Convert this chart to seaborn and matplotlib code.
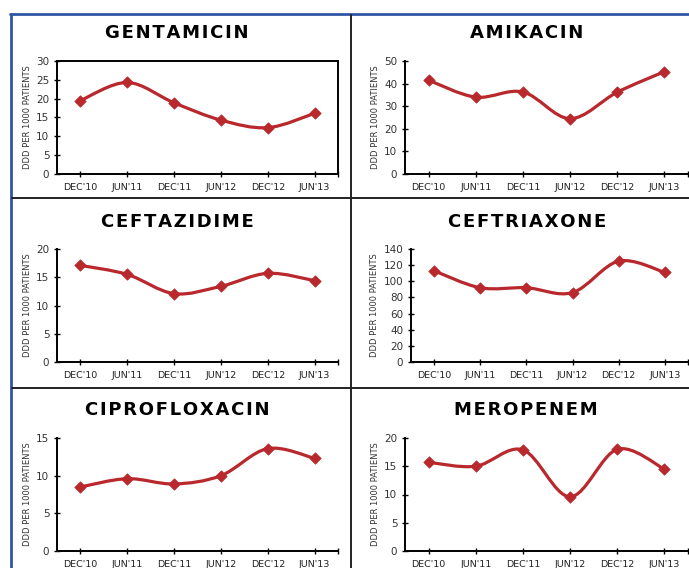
import numpy as np
import pandas as pd
import matplotlib.pyplot as plt
import seaborn as sns
from matplotlib.path import Path
from matplotlib.patches import PathPatch
from matplotlib.lines import Line2D
from matplotlib.ticker import FixedLocator

# data (DDD per 1000 patients)
periods = ["DEC'10", "JUN'11", "DEC'11", "JUN'12", "DEC'12", "JUN'13"]
gentamicin = [19.5, 24.3, 18.9, 14.3, 12.3, 16.1]
amikacin = [41.5, 34.0, 36.3, 24.5, 36.2, 45.3]
ceftazidime = [17.1, 15.5, 12.1, 13.4, 15.7, 14.4]
ceftriaxone = [113, 92, 92, 86, 125, 111]
ciprofloxacin = [8.5, 9.6, 8.9, 10.0, 13.6, 12.3]
meropenem = [15.7, 15.0, 17.9, 9.6, 18.0, 14.5]

drugs = ["GENTAMICIN", "AMIKACIN", "CEFTAZIDIME", "CEFTRIAXONE", "CIPROFLOXACIN", "MEROPENEM"]
values = [gentamicin, amikacin, ceftazidime, ceftriaxone, ciprofloxacin, meropenem]
ymax = [30, 50, 20, 140, 15, 20]
ystep = [5, 10, 5, 20, 5, 5]

sns.set_style("white")
plt.rcParams["font.family"] = ["DejaVu Sans"]

W, H = 689, 568
fig = plt.figure(figsize=(W / 100, H / 100), dpi=100)

# pixel boxes: left, right, top, bottom of each plot area
boxes = [(57, 338, 61, 174), (405, 688, 61, 174),
         (57, 338, 249, 362), (411, 688, 249, 362),
         (57, 338, 438, 551), (405, 688, 438, 551)]
title_pos = [(177, 33), (527, 33), (177, 222), (527, 222), (177, 410), (526, 410)]

red = "#B8282C"


def smooth_path(xs, ys):
    pts = np.column_stack([xs, ys]).astype(float)
    n = len(pts)
    verts = [pts[0]]
    codes = [Path.MOVETO]
    for i in range(n - 1):
        p0 = pts[max(i - 1, 0)]
        p1 = pts[i]
        p2 = pts[i + 1]
        p3 = pts[min(i + 2, n - 1)]
        verts += [p1 + (p2 - p0) / 6, p2 - (p3 - p1) / 6, p2]
        codes += [Path.CURVE4] * 3
    return Path(verts, codes)


for k in range(6):
    l, r, t, b = boxes[k]
    ax = fig.add_axes([l / W, 1 - b / H, (r - l) / W, (b - t) / H])
    df = pd.DataFrame({"period": periods, "x": np.arange(len(periods)), "ddd": values[k]})

    ax.add_patch(PathPatch(smooth_path(df["x"], df["ddd"]), facecolor="none",
                           edgecolor=red, lw=2.3, zorder=2))
    sns.scatterplot(data=df, x="x", y="ddd", marker="D", s=34, color=red,
                    edgecolor=red, linewidth=0.5, ax=ax, zorder=3, legend=False)

    ax.set_xlim(-0.5, 5.5)
    ax.set_ylim(0, ymax[k])
    ax.set_xticks(df["x"])
    ax.set_xticklabels(periods, fontsize=6.8, color="#222222")
    ax.xaxis.set_minor_locator(FixedLocator([5.5]))
    ax.set_yticks(np.arange(0, ymax[k] + 1, ystep[k]))
    ax.tick_params(axis="y", labelsize=7.5, labelcolor="#333333", direction="inout",
                   length=5, width=1, color="black", pad=3, left=True)
    ax.tick_params(axis="x", which="both", direction="inout", length=5, width=1,
                   color="black", pad=4, bottom=True)
    ax.set_xlabel("")
    ax.set_ylabel("DDD PER 1000 PATIENTS", fontsize=6, color="#333333", labelpad=3)

    for side in ["left", "bottom"]:
        ax.spines[side].set_color("black")
        ax.spines[side].set_linewidth(1.4)
    if k == 0:
        for side in ["top", "right"]:
            ax.spines[side].set_color("black")
            ax.spines[side].set_linewidth(1.4)
    else:
        ax.spines["top"].set_visible(False)
        ax.spines["right"].set_visible(False)
    ax.grid(False)

    tx, ty = title_pos[k]
    fig.text(tx / W, 1 - ty / H, "\u200a".join(drugs[k]), ha="center", va="center",
             fontsize=13, fontweight="bold", color="black")

# panel frame
blue = "#2F56A6"
fig.add_artist(Line2D([10 / W, 1], [1 - 14 / H, 1 - 14 / H], color=blue, lw=2))
fig.add_artist(Line2D([11 / W, 11 / W], [1 - 14 / H, 0], color=blue, lw=2))
fig.add_artist(Line2D([351 / W, 351 / W], [1 - 15 / H, 0], color="#222222", lw=1.4))
for yy in [198, 388]:
    fig.add_artist(Line2D([12 / W, 1], [1 - yy / H, 1 - yy / H], color="#222222", lw=1.4))

fig.savefig("out.png", dpi=100)
